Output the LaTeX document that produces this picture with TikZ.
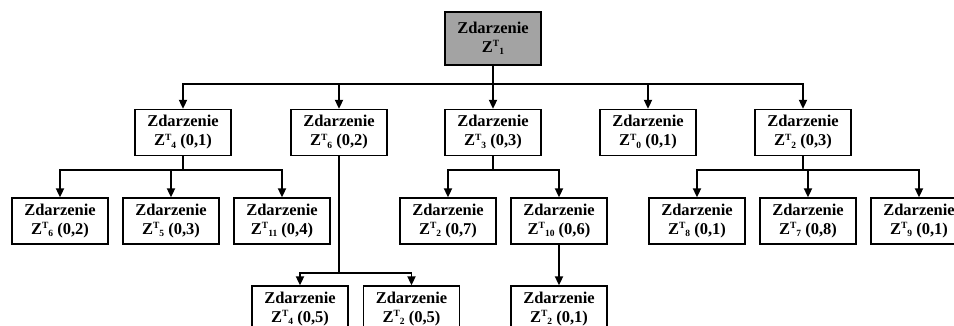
\documentclass[tikz,border=0pt]{standalone}
\usepackage{fontspec}
\setmainfont{Liberation Serif}
\usetikzlibrary{positioning}
\usetikzlibrary{arrows.meta}
\definecolor{rootgray}{RGB}{163,163,163}
\newcommand{\zt}[1]{Z\raisebox{5.5pt}{\fontsize{9.5}{9.5}\selectfont T}\raisebox{-2.5pt}{\fontsize{9.5}{9.5}\selectfont #1}}
\tikzset{
    evnode/.style = {rectangle, line width=1.3pt, draw=black, align=center, fill=white, minimum width=96pt, minimum height=46pt, inner sep=0pt, font=\fontsize{16.5}{19}\selectfont\bfseries, text=black},
    evroot/.style = {evnode, fill=rootgray, minimum height=53pt},
    edgea/.style = {-{Triangle[length=9pt,width=8pt]}, line width=1.8pt, black}
}

\begin{document}
\begin{tikzpicture}[x=1pt,y=-1pt]
  \useasboundingbox (0,0) rectangle (954,326);
  \clip (0,0) rectangle (954,326);
  % top event
  \node[evroot] (z1) at (493,38.5) {Zdarzenie\\\zt{1}};
  % level 1
  \node[evnode] (z4) at (183,132.5) {Zdarzenie\\\zt{4} (0,1)};
  \node[evnode] (z6) at (339,132.5) {Zdarzenie\\\zt{6} (0,2)};
  \node[evnode] (z3) at (493,132.5) {Zdarzenie\\\zt{3} (0,3)};
  \node[evnode] (z0) at (648,132.5) {Zdarzenie\\\zt{0} (0,1)};
  \node[evnode] (z2) at (803,132.5) {Zdarzenie\\\zt{2} (0,3)};
  % level 2
  \node[evnode] (z6a) at (60,221) {Zdarzenie\\\zt{6} (0,2)};
  \node[evnode] (z5a) at (171,221) {Zdarzenie\\\zt{5} (0,3)};
  \node[evnode] (z11a) at (282,221) {Zdarzenie\\\zt{11} (0,4)};
  \node[evnode] (z2a) at (448,221) {Zdarzenie\\\zt{2} (0,7)};
  \node[evnode] (z10a) at (559,221) {Zdarzenie\\\zt{10} (0,6)};
  \node[evnode] (z8a) at (697,221) {Zdarzenie\\\zt{8} (0,1)};
  \node[evnode] (z7a) at (808,221) {Zdarzenie\\\zt{7} (0,8)};
  \node[evnode] (z9a) at (919,221) {Zdarzenie\\\zt{9} (0,1)};
  % level 3
  \node[evnode] (z4b) at (300,309) {Zdarzenie\\\zt{4} (0,5)};
  \node[evnode] (z2b) at (411.5,309) {Zdarzenie\\\zt{2} (0,5)};
  \node[evnode] (z2c) at (559,309) {Zdarzenie\\\zt{2} (0,1)};
  % connectors
  \draw[edgea] (z1.south) -- ++(0,18) -| (z4.north);
  \draw[edgea] (z1.south) -- ++(0,18) -| (z6.north);
  \draw[edgea] (z1.south) -- (z3.north);
  \draw[edgea] (z1.south) -- ++(0,18) -| (z0.north);
  \draw[edgea] (z1.south) -- ++(0,18) -| (z2.north);
  \draw[edgea] (z4.south) -- ++(0,13.5) -| (z6a.north);
  \draw[edgea] (z4.south) -- ++(0,13.5) -| (z5a.north);
  \draw[edgea] (z4.south) -- ++(0,13.5) -| (z11a.north);
  \draw[edgea] (z6.south) -- ++(0,117) -| (z4b.north);
  \draw[edgea] (z6.south) -- ++(0,117) -| (z2b.north);
  \draw[edgea] (z3.south) -- ++(0,13.5) -| (z2a.north);
  \draw[edgea] (z3.south) -- ++(0,13.5) -| (z10a.north);
  \draw[edgea] (z10a.south) -- (z2c.north);
  \draw[edgea] (z2.south) -- ++(0,13.5) -| (z8a.north);
  \draw[edgea] (z2.south) -- ++(0,13.5) -| (z7a.north);
  \draw[edgea] (z2.south) -- ++(0,13.5) -| (z9a.north);
\end{tikzpicture}
\end{document}
